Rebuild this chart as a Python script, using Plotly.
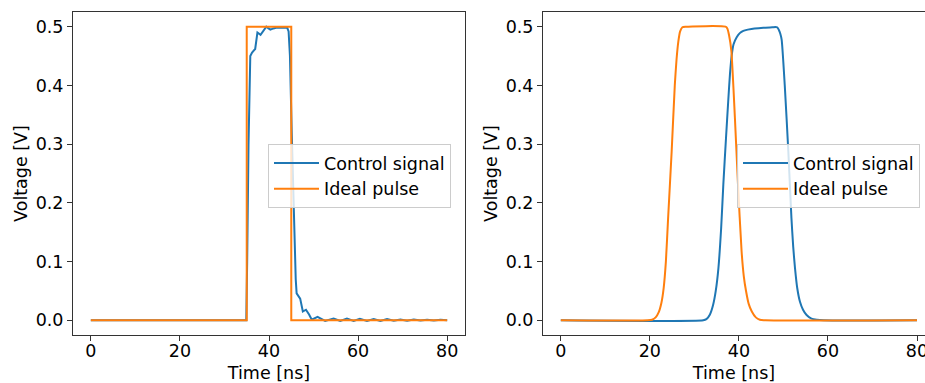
import plotly.graph_objects as go

# ---------------- data ----------------
# Left panel: measured control signal vs. ideal rectangular pulse
left_ctrl_t = [0, 34.9, 35.1, 35.4, 35.8, 36.2, 36.9, 37.4, 38.1, 38.8, 39.4, 39.9, 40.3,
               41.0, 41.6, 43.0, 44.1, 44.4, 44.7, 45.1, 45.7, 46.0, 46.2, 46.6, 47.0,
               47.6, 48.3, 49.0, 49.6, 50.9, 52.6, 54.5, 56.0, 57.5, 59.0, 60.4, 62.0,
               63.5, 65.0, 66.5, 68.0, 69.5, 71.0, 72.5, 74.0, 75.5, 77.0, 78.5, 80.0]
left_ctrl_v = [0, 0.0, 0.10, 0.30, 0.450, 0.456, 0.462, 0.490, 0.486, 0.494, 0.500, 0.497, 0.495,
               0.497, 0.498, 0.498, 0.498, 0.492, 0.45, 0.32, 0.137, 0.07, 0.046, 0.042, 0.037,
               0.015, 0.018, 0.010, 0.001, 0.006, -0.001, 0.003, -0.001, 0.003, -0.001, 0.0025, -0.001,
               0.002, -0.001, 0.002, -0.0008, 0.0015, -0.0008, 0.0012, -0.0005, 0.001, -0.0005, 0.0008, 0.0]

left_ideal_t = [0, 35, 35, 45, 45, 80]
left_ideal_v = [0, 0, 0.5, 0.5, 0, 0]

# Right panel: smoothed pulses
right_ctrl_t = [0, 32.0, 32.7, 33.5, 34.2, 34.8, 35.4, 36.0, 36.5, 37.1, 37.6, 38.0, 38.4,
                38.8, 39.5, 40.2, 41.0, 42.0, 43.5, 45.5, 47.5, 48.6, 49.0, 49.3, 49.6,
                50.3, 51.1, 51.8, 52.2, 52.6, 53.1, 53.7, 54.4, 55.2, 56.3, 57.5, 59.0, 80.0]
right_ctrl_v = [0, 0, 0.002, 0.010, 0.026, 0.050, 0.089, 0.155, 0.231, 0.310, 0.373, 0.420, 0.452,
                0.470, 0.482, 0.489, 0.493, 0.495, 0.497, 0.498, 0.499, 0.499, 0.494, 0.488, 0.478,
                0.400, 0.288, 0.174, 0.125, 0.089, 0.055, 0.032, 0.018, 0.009, 0.003, 0.001, 0, 0]

right_ideal_t = [0, 19.5, 20.5, 21.3, 22.0, 22.6, 23.1, 23.6, 24.1, 24.9, 25.6, 26.0, 26.4,
                 26.8, 27.3, 28.0, 37.0, 37.4, 37.8, 38.3, 39.1, 39.8, 40.6, 41.1, 41.6,
                 42.2, 42.9, 43.8, 44.7, 46.0, 80.0]
right_ideal_v = [0, 0, 0.001, 0.005, 0.014, 0.030, 0.055, 0.100, 0.174, 0.288, 0.400, 0.445, 0.475,
                 0.492, 0.499, 0.500, 0.500, 0.497, 0.485, 0.459, 0.345, 0.231, 0.118, 0.075, 0.050,
                 0.028, 0.015, 0.005, 0.001, 0, 0]

x_ticks = [0, 20, 40, 60, 80]
y_ticks = [0.0, 0.1, 0.2, 0.3, 0.4, 0.5]
series_names = ["Control signal", "Ideal pulse"]

# ---------------- styling ----------------
W, H = 925, 383
C0, C1 = "#1f77b4", "#ff7f0e"
FONT = "DejaVu Sans"
FS = 17.5
AX = "#333333"

fig = go.Figure()
fig.add_trace(go.Scatter(x=left_ctrl_t, y=left_ctrl_v, mode="lines", name=series_names[0],
                         line=dict(color=C0, width=2), xaxis="x", yaxis="y", legend="legend"))
fig.add_trace(go.Scatter(x=left_ideal_t, y=left_ideal_v, mode="lines", name=series_names[1],
                         line=dict(color=C1, width=2), xaxis="x", yaxis="y", legend="legend"))
fig.add_trace(go.Scatter(x=right_ctrl_t, y=right_ctrl_v, mode="lines", name=series_names[0],
                         line=dict(color=C0, width=2, shape="spline", smoothing=0.6),
                         xaxis="x2", yaxis="y2", legend="legend2"))
fig.add_trace(go.Scatter(x=right_ideal_t, y=right_ideal_v, mode="lines", name=series_names[1],
                         line=dict(color=C1, width=2, shape="spline", smoothing=0.6),
                         xaxis="x2", yaxis="y2", legend="legend2"))

ydom = [1 - 335 / H, 1 - 12 / H]

def xax(domain, rng, anchor):
    return dict(domain=domain, range=rng, anchor=anchor, tickvals=x_ticks,
                showline=True, linecolor=AX, linewidth=1, mirror=True,
                ticks="outside", ticklen=5, tickcolor=AX, showgrid=False, zeroline=False,
                tickfont=dict(family=FONT, size=FS, color="#000"),
                ticklabelstandoff=-5, ticklabeloverflow="allow",
                title=dict(text="Time [ns]", font=dict(family=FONT, size=FS, color="#000"), standoff=8),
                automargin=False)

def yax(anchor, mirror):
    return dict(domain=ydom, range=[-0.025, 0.525], anchor=anchor, tickvals=y_ticks, tickformat=".1f",
                showline=True, linecolor=AX, linewidth=1, mirror=mirror,
                ticks="outside", ticklen=5, tickcolor=AX, showgrid=False, zeroline=False,
                tickfont=dict(family=FONT, size=FS, color="#000"),
                title=dict(text="Voltage [V]", font=dict(family=FONT, size=FS, color="#000"), standoff=3),
                automargin=False)

legend_style = dict(bgcolor="rgba(255,255,255,0.8)", bordercolor="#cccccc", borderwidth=1,
                    font=dict(family=FONT, size=FS, color="#000"), xanchor="left", yanchor="top",
                    xref="paper", yref="paper", itemwidth=45)

fig.update_layout(
    width=W, height=H, margin=dict(l=0, r=0, t=0, b=0),
    paper_bgcolor="white", plot_bgcolor="white",
    xaxis=xax([73 / W, 465 / W], [-4, 84], "y"),
    yaxis=yax("x", True),
    xaxis2=xax([543 / W, 1.0], [-4, (W - 561) / 4.45], "y2"),
    yaxis2=yax("x2", False),
    legend=dict(x=268 / W, y=1 - 144 / H, **legend_style),
    legend2=dict(x=737 / W, y=1 - 144 / H, **legend_style),
    showlegend=True,
)

fig.write_html("out.html")
